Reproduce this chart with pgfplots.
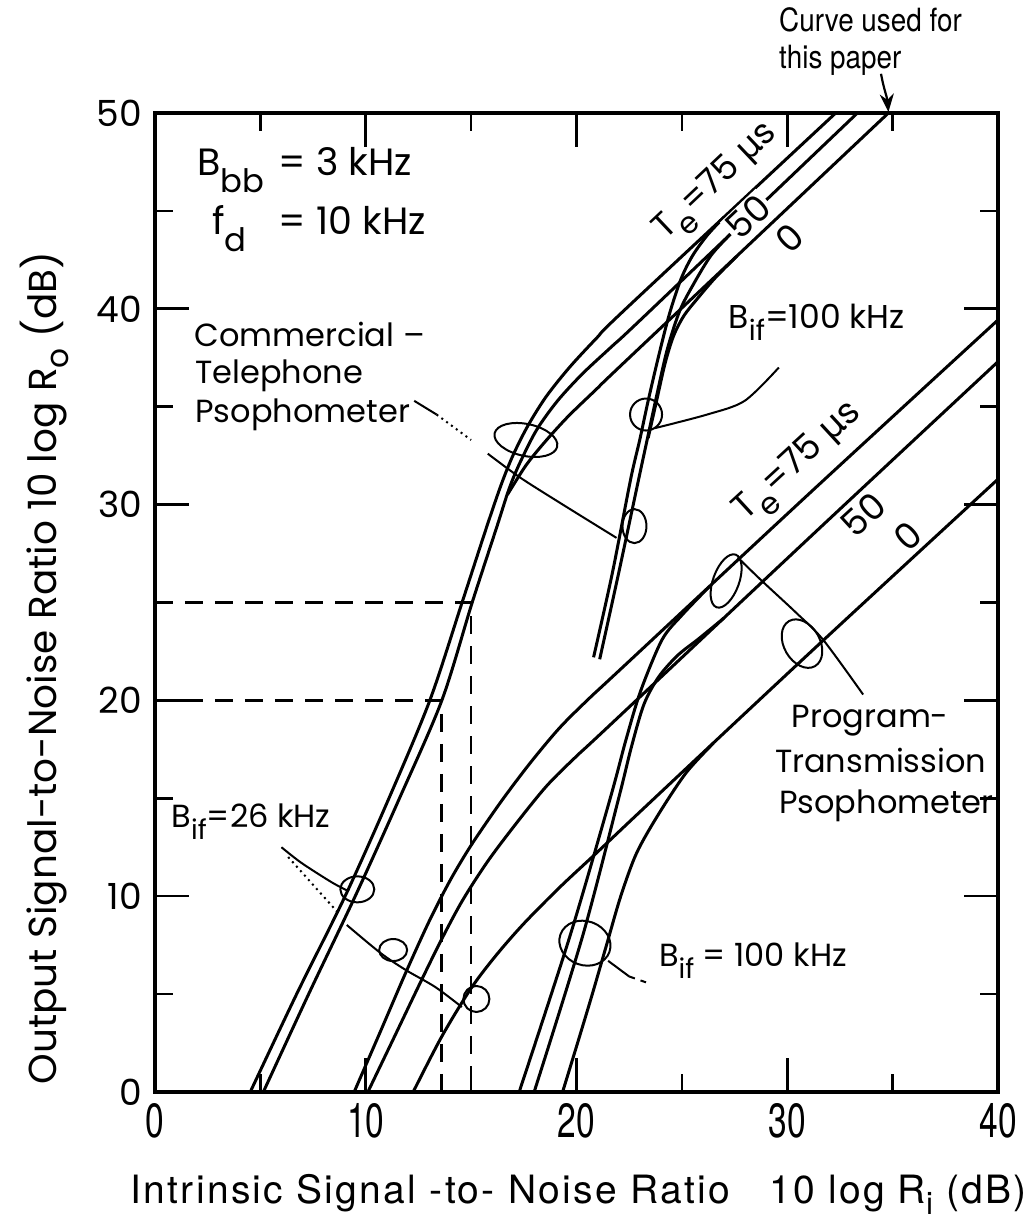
\documentclass[border=0pt]{standalone}
\usepackage{pgfplots}
\pgfplotsset{compat=1.18}
\usetikzlibrary{arrows.meta,shapes.geometric}
\usepackage{graphicx}
\usepackage{fontspec}
\setmainfont{Poppins}
\newfontfamily\heros{TeX Gyre Heros}
\newfontfamily\tickfont[FakeStretch=0.7]{TeX Gyre Heros}
\newfontfamily\narrowfont[FakeStretch=0.87]{TeX Gyre Heros}
\newfontfamily\xlabfont[LetterSpace=6]{TeX Gyre Heros}
\newfontfamily\dejavu{DejaVu Sans}
\newcommand{\sub}[1]{\raisebox{-0.38em}{\scalebox{0.85}{#1}}}
\newcommand{\us}{{\dejavu µ}s}
\newcommand{\fs}[1]{\fontsize{#1}{#1}\selectfont}
\tikzset{lab/.style={inner sep=0pt, anchor=base west},
         loop/.style={draw, ellipse, inner sep=0pt, line width=1pt}}
\begin{document}
\begin{tikzpicture}
\begin{axis}[
  at={(0,0)}, anchor=south west,
  scale only axis, width=421.5pt, height=489.5pt,
  xmin=0, xmax=40, ymin=0, ymax=50,
  xtick={0,10,20,30,40}, ytick={0,10,20,30,40,50},
  minor xtick={5,15,25,35}, minor ytick={5,15,25,35,45},
  tick align=inside,
  major tick length=17pt, minor tick length=9pt,
  tick style={line width=1.3pt, black},
  axis line style={line width=1.8pt},
  xticklabel style={font=\tickfont\fs{24}, yshift=-2pt},
  yticklabel style={font=\fs{18}, xshift=-3pt},
  /pgf/number format/assume math mode=true,
  clip=false,
  every axis plot/.append style={line width=1.5pt, black},
]
% ---- Commercial-telephone psophometer, B_if = 26 kHz (T_e = 75, 50, 0 us)
\addplot[smooth,tension=0.5] coordinates {(4.52,0) (6.72,5) (9.02,10) (11.1,15) (13.04,20) (14.57,25) (15.72,28.8) (16.42,31) (16.98,32.5) (17.68,34) (18.55,35.5) (19.66,37) (20.95,38.5) (22.34,40) (32.3,50)};
\addplot[smooth,tension=0.5] coordinates {(5.14,0) (7.29,5) (9.50,10) (11.6,15) (13.61,20) (15.05,25) (16.2,28.8) (16.8,30.8) (17.3,32.1) (18.1,33.8) (19.1,35.3) (20.3,36.7) (21.7,38.1) (23.2,39.6) (33.33,50)};
\addplot[smooth,tension=0.5] coordinates {(16.72,30.5) (17.6,32.0) (18.5,33.2) (19.6,34.5) (20.95,35.9) (22.5,37.5) (34.8,50)};
% ---- Commercial, B_if = 100 kHz (join the lines above)
\addplot[smooth,tension=0.5] coordinates {(20.81,22.2) (21.7,26.5) (22.57,31.3) (23.0,33.3) (23.4,35.3) (23.9,37.6) (24.4,39.7) (24.95,41.5) (25.5,42.7) (26.2,43.75) (27.0,44.68)};
\addplot[smooth,tension=0.5] coordinates {(21.1,22.1) (22.0,26.5) (22.95,31.3) (23.35,33.3) (23.75,35.3) (24.3,37.9) (24.9,39.9) (25.6,41.35) (26.4,42.75) (27.3,43.81)};
\addplot[smooth,tension=0.5] coordinates {(23.4,33.4) (23.8,35.3) (24.2,37.2) (24.6,38.6) (25.1,39.65) (25.8,40.6) (26.6,41.6) (27.6,42.68)};
% ---- Program-transmission psophometer, B_if = 26 kHz
\addplot[smooth,tension=0.5] coordinates {(9.45,0) (10.7,3.1) (11.9,6.1) (13.0,8.7) (14.0,10.8) (15.0,12.6) (16.4,14.8) (17.8,16.8) (19.2,18.6) (20.6,20.1) (22,21.5) (31.06,30.58) (40,39.43)};
\addplot[smooth,tension=0.5] coordinates {(10.1,0) (11.35,2.8) (12.55,5.5) (13.6,7.8) (14.6,9.8) (15.8,11.8) (17.2,13.8) (18.6,15.65) (20.0,17.15) (21.5,18.65) (31.1,28.36) (40,37.3)};
\addplot[smooth,tension=0.5] coordinates {(12.25,0) (13.6,2.82) (15.0,5.3) (16.2,7.0) (17.5,8.6) (19.2,10.45) (20.93,12.19) (23.27,14.57) (31.21,22.57) (40,31.3)};
% ---- Program, B_if = 100 kHz (join the lines above)
\addplot[smooth,tension=0.5] coordinates {(17.28,0) (19.7,8) (21.6,15) (22.35,18) (23.05,20.5) (24.06,23.1) (25.0,24.35) (26.3,25.81)};
\addplot[smooth,tension=0.5] coordinates {(17.99,0) (20.3,8) (22.0,15) (22.6,17.6) (23.2,19.8) (23.9,21.2) (24.8,22.3) (25.8,23.15) (27.0,24.21)};
\addplot[smooth,tension=0.5] coordinates {(19.34,0) (20.05,2.5) (20.75,5.0) (21.45,7.6) (22.1,10.0) (22.85,12.2) (23.9,14.2) (25.2,16.3) (26.5,17.82)};
% ---- dashed guides
\addplot[line width=1.2pt, dash pattern=on 9pt off 6pt] coordinates {(0,25) (15.0,25) (15.0,0)};
\addplot[line width=1.2pt, dash pattern=on 9pt off 6pt] coordinates {(0,20) (13.6,20) (13.6,0)};
% ---- leaders
\addplot[line width=1pt] coordinates {(12.3,35.3) (13.36,34.6)};
\addplot[line width=1pt, dotted] coordinates {(13.36,34.6) (15.0,33.3)};
\addplot[line width=1pt, smooth] coordinates {(15.79,32.6) (17.3,31.4) (19.2,30.1) (21.9,28.3)};
\addplot[line width=1pt, smooth] coordinates {(29.6,37.0) (27.98,35.3) (26.2,34.6) (23.7,33.9)};
\addplot[line width=1pt, smooth] coordinates {(33.6,20.3) (31.7,23.1) (30.4,24.5) (28.8,26.1) (27.65,27.3)};
\addplot[line width=1pt, smooth] coordinates {(6.0,12.5) (6.95,11.7) (8.4,10.7) (9.2,10.25)};
\addplot[line width=1pt, dotted] coordinates {(6.32,12.0) (8.7,9.14)};
\addplot[line width=1pt, smooth] coordinates {(9.1,8.53) (10.7,7.1) (11.9,6.23) (13.3,5.36) (14.56,4.34)};
\addplot[line width=1pt] coordinates {(21.5,6.7) (22.5,5.9)};
\addplot[line width=1pt, dashed] coordinates {(22.5,5.9) (23.3,5.6)};
\node[loop, minimum width=32pt, minimum height=16pt, rotate=-12] at (axis cs:17.6,33.3) {};
\node[loop, minimum width=12pt, minimum height=17pt] at (axis cs:22.75,28.9) {};
\node[loop, minimum width=16pt, minimum height=16pt] at (axis cs:23.3,34.6) {};
\node[loop, minimum width=13pt, minimum height=28pt, rotate=-20] at (axis cs:27.1,26.1) {};
\node[loop, minimum width=18pt, minimum height=26pt, rotate=30] at (axis cs:30.7,22.9) {};
\node[loop, minimum width=17pt, minimum height=13pt] at (axis cs:9.6,10.35) {};
\node[loop, minimum width=14pt, minimum height=11pt] at (axis cs:11.3,7.25) {};
\node[loop, minimum width=13pt, minimum height=13pt] at (axis cs:15.25,4.75) {};
\node[loop, minimum width=26pt, minimum height=22pt, rotate=-20] at (axis cs:20.4,7.6) {};
% ---- texts
\node[lab, font=\fs{19}] at (axis cs:2.0,46.8) {B\raisebox{-0.45em}{\scalebox{0.85}{bb}}};
\node[lab, font=\fs{19}] at (axis cs:5.85,46.8) {= 3 kHz};
\node[lab, font=\fs{19}] at (axis cs:2.7,43.8) {f\raisebox{-0.45em}{\scalebox{0.85}{d}}};
\node[lab, font=\fs{19}] at (axis cs:5.85,43.8) {= 10 kHz};
\node[lab, font=\fs{16}] at (axis cs:1.87,38.05) {Commercial –};
\node[lab, font=\fs{16}] at (axis cs:1.9,36.2) {Telephone};
\node[lab, font=\fs{16}] at (axis cs:1.9,34.2) {Psophometer};
\node[lab, font=\fs{16.5}] at (axis cs:27.2,39.0) {B\sub{if}=100 kHz};
\node[rotate=43.4, font=\fs{17.5}, inner sep=0pt] at (axis cs:26.7,46.4) {T\sub{e}=75 \us};
\node[rotate=43.4, font=\fs{18}, inner sep=1pt, fill=white] at (axis cs:28.15,44.7) {50};
\node[rotate=43.4, font=\fs{18}, inner sep=0pt] at (axis cs:30.1,43.6) {0};
\node[rotate=42.6, font=\fs{18}, inner sep=0pt] at (axis cs:30.6,32.1) {T\sub{e}=75 \us};
\node[rotate=42.6, font=\fs{18}, inner sep=0pt] at (axis cs:33.6,29.5) {50};
\node[rotate=42.6, font=\fs{18}, inner sep=0pt] at (axis cs:35.7,28.4) {0};
\node[lab, font=\fs{16}] at (axis cs:30.2,18.6) {Program-};
\node[lab, font=\fs{16}] at (axis cs:29.4,16.3) {Transmission};
\node[lab, font=\fs{16}] at (axis cs:29.6,14.2) {Psophometer};
\node[lab, font=\fs{16}] at (axis cs:0.77,13.5) {B\sub{if}=26 kHz};
\node[lab, font=\fs{16}] at (axis cs:23.9,6.4) {B\sub{if} = 100 kHz};
\node[anchor=north west, align=left, inner sep=0pt, font=\narrowfont\fontsize{16}{18.5}\selectfont] at (axis cs:29.6,55.4) {Curve used for\\this paper};
\draw[line width=1.1pt, -{Stealth[length=9pt, width=7pt]}] (axis cs:34.45,52.0) to[out=-80, in=95] (axis cs:34.8,50.05);
% ---- axis labels
\node[anchor=base, inner sep=0pt, font=\xlabfont\fs{19.5}] at (axis cs:20.1,-5.67) {Intrinsic Signal -to- Noise Ratio\quad 10 log R\raisebox{-0.3em}{\scalebox{0.8}{i}} (dB)};
\node[anchor=base, rotate=90, inner sep=0pt, font=\fs{19.5}] at (axis cs:-4.65,21.65) {Output Signal-to-Noise Ratio 10 log R\raisebox{-0.3em}{\scalebox{0.8}{o}} (dB)};
\end{axis}
\path[use as bounding box] (-77.5pt,-63.5pt) rectangle (434.5pt,546pt);
\end{tikzpicture}
\end{document}
